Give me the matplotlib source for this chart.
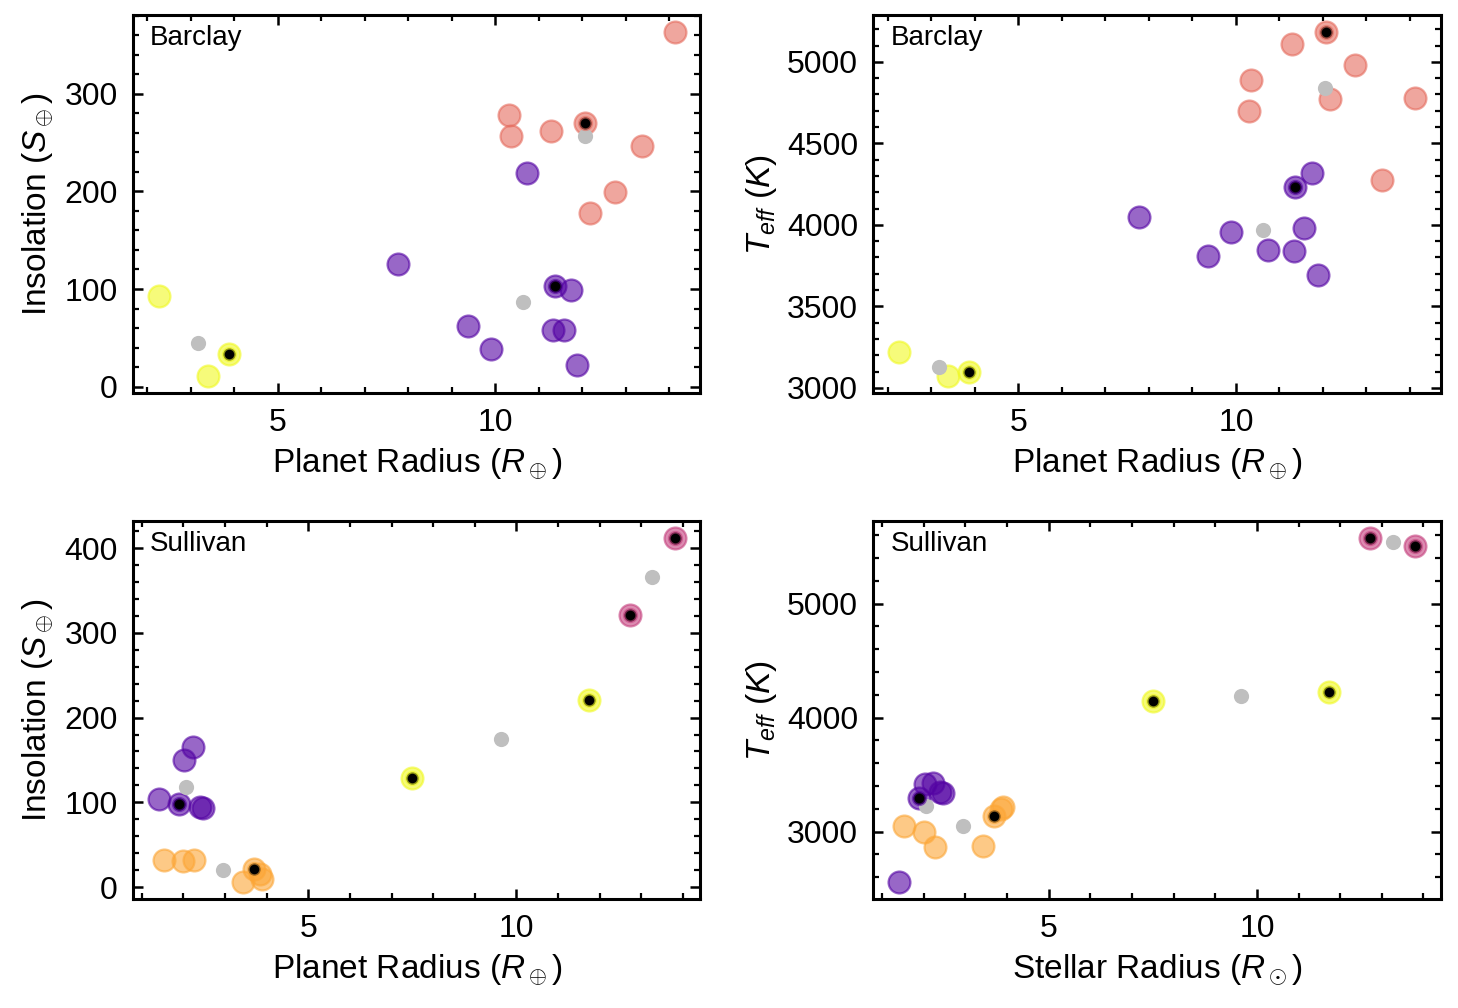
import numpy as np
import matplotlib
matplotlib.use('Agg')
import matplotlib.pyplot as plt
from matplotlib.ticker import AutoMinorLocator, MultipleLocator
from matplotlib.colors import to_rgba


# Barclay sample: planet radius, insolation, Teff, cluster id, highlighted
barclay_radius = [2.26, 3.39, 3.87,
                  7.77, 9.36, 9.89, 10.73, 11.33, 11.36, 11.74, 11.57, 11.88,
                  14.12, 10.31, 10.35, 11.28, 12.06, 13.36, 12.74, 12.17]
barclay_insol = [93, 11, 33,
                 126, 62, 39, 219, 58, 103, 99, 58, 22,
                 363, 278, 257, 262, 270, 247, 199, 178]
barclay_teff = [3223, 3074, 3095,
                4047, 3810, 3959, 3849, 3839, 4231, 4316, 3979, 3693,
                4781, 4699, 4889, 5109, 5181, 4276, 4979, 4775]
barclay_cluster = [2, 2, 2,
                   0, 0, 0, 0, 0, 0, 0, 0, 0,
                   1, 1, 1, 1, 1, 1, 1, 1]
barclay_marked = [0, 0, 1,
                  0, 0, 0, 0, 0, 1, 0, 0, 0,
                  0, 0, 0, 0, 1, 0, 0, 0]
barclay_cent_radius = [3.17, 10.63, 12.05]
barclay_cent_insol = [45, 87, 257]
barclay_cent_teff = [3130, 3969, 4841]

# Sullivan sample
sullivan_radius = [1.41, 1.89, 2.02, 2.23, 2.39, 2.47,
                   12.72, 13.80,
                   7.50, 11.74,
                   1.53, 2.00, 2.26, 3.43, 3.69, 3.85, 3.89]
sullivan_insol = [104, 98.5, 150, 165, 94, 93,
                  321, 411.5,
                  129, 221,
                  32, 31, 32, 6, 21, 15, 9]
sullivan_teff = [2558, 3295, 3413, 3428, 3348, 3339,
                 5572, 5507,
                 4142, 4224,
                 3050, 3000, 2864, 2873, 3139, 3200, 3212]
sullivan_cluster = [0, 0, 0, 0, 0, 0,
                    1, 1,
                    3, 3,
                    2, 2, 2, 2, 2, 2, 2]
sullivan_marked = [0, 1, 0, 0, 0, 0,
                   1, 1,
                   1, 1,
                   0, 0, 0, 0, 1, 0, 0]
sullivan_cent_radius = [2.06, 13.26, 9.62, 2.95]
sullivan_cent_insol = [117.6, 366, 175, 20]
sullivan_cent_teff = [3221, 5537, 4186, 3050]

barclay_colors = {0: '#5302a3', 1: '#e56b5d', 2: '#f0f921'}
sullivan_colors = {0: '#5302a3', 1: '#c5407e', 2: '#fca636', 3: '#f0f921'}

plt.rcParams['font.family'] = ['Liberation Sans', 'DejaVu Sans']
plt.rcParams['mathtext.fontset'] = 'custom'
plt.rcParams['mathtext.rm'] = 'Liberation Sans'
plt.rcParams['mathtext.it'] = 'Liberation Sans:italic'
plt.rcParams['mathtext.bf'] = 'Liberation Sans:bold'

ALPHA = 0.6


def style_axis(ax):
    ax.xaxis.set_minor_locator(AutoMinorLocator())
    ax.yaxis.set_minor_locator(AutoMinorLocator())
    ax.tick_params(which='both', direction='in', top=True, right=True, labelsize=11.5)
    ax.tick_params(which='major', length=3.6, width=0.9, pad=5.5)
    ax.tick_params(which='minor', length=2.0, width=0.8)
    for sp in ax.spines.values():
        sp.set_linewidth(1.1)


def panel(ax, x, y, cluster, marked, cx, cy, colors, name, xlabel, ylabel):
    x = np.asarray(x)
    y = np.asarray(y)
    cluster = np.asarray(cluster)
    marked = np.asarray(marked, dtype=bool)
    for k, col in colors.items():
        sel = cluster == k
        ax.scatter(x[sel], y[sel], s=62, color=col, alpha=ALPHA, linewidths=0.8, zorder=2)
    ax.scatter(cx, cy, s=30, color='#bfbfbf', linewidths=0, zorder=3)
    for k, col in colors.items():
        sel = (cluster == k) & marked
        if sel.any():
            ax.scatter(x[sel], y[sel], s=20, color='black',
                       edgecolors=[to_rgba(col, ALPHA)], linewidths=1.0, zorder=4)
    ax.text(0.03, 0.94, name, transform=ax.transAxes, fontsize=10, ha='left', va='center')
    ax.set_xlabel(xlabel, fontsize=12, labelpad=3)
    ax.set_ylabel(ylabel, fontsize=12, labelpad=3)
    style_axis(ax)


fig, axes = plt.subplots(2, 2, figsize=(7.29, 5.04), dpi=200)
fig.subplots_adjust(left=0.0912, right=0.9883, top=0.985, bottom=0.108, wspace=0.305, hspace=0.339)

rp_label = r'Planet Radius ($R_\oplus$)'
rs_label = r'Stellar Radius ($R_\odot$)'
s_label = r'Insolation ($S_\oplus$)'
t_label = r'$T_{eff}$ $(K)$'

panel(axes[0, 0], barclay_radius, barclay_insol, barclay_cluster, barclay_marked,
      barclay_cent_radius, barclay_cent_insol, barclay_colors, 'Barclay', rp_label, s_label)
panel(axes[0, 1], barclay_radius, barclay_teff, barclay_cluster, barclay_marked,
      barclay_cent_radius, barclay_cent_teff, barclay_colors, 'Barclay', rp_label, t_label)
panel(axes[1, 0], sullivan_radius, sullivan_insol, sullivan_cluster, sullivan_marked,
      sullivan_cent_radius, sullivan_cent_insol, sullivan_colors, 'Sullivan', rp_label, s_label)
panel(axes[1, 1], sullivan_radius, sullivan_teff, sullivan_cluster, sullivan_marked,
      sullivan_cent_radius, sullivan_cent_teff, sullivan_colors, 'Sullivan', rs_label, t_label)

axes[0, 0].yaxis.set_major_locator(MultipleLocator(100))
axes[0, 1].yaxis.set_major_locator(MultipleLocator(500))
axes[1, 0].yaxis.set_major_locator(MultipleLocator(100))
axes[1, 1].yaxis.set_major_locator(MultipleLocator(1000))
for ax in axes.flat:
    ax.xaxis.set_major_locator(MultipleLocator(5))

fig.savefig('out.png')
